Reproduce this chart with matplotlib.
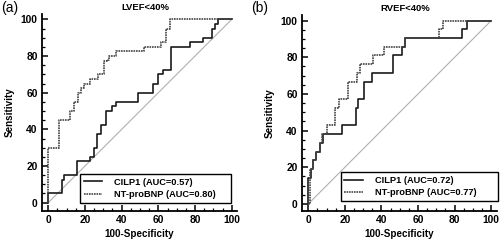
import matplotlib
matplotlib.use("Agg")
import matplotlib.pyplot as plt
from matplotlib.ticker import MultipleLocator

plt.rcParams['font.family'] = ['Liberation Sans', 'DejaVu Sans']

# ROC corner points (100-Specificity, Sensitivity)
lv_cilp_x = [0, 0, 7.5, 8.5, 15.8, 23, 25, 26.7, 28.6, 31.3, 35, 36.8, 48.7, 57, 59.7, 62.5, 67, 77, 84.3, 89, 90.8, 92.7, 100]
lv_cilp_y = [0, 5, 12.5, 15, 22.5, 25, 30, 37.5, 42.5, 50, 52.5, 55, 60, 65, 70, 72.5, 85, 87.5, 90, 95, 97.5, 100, 100]
lv_bnp_x = [0, 0, 5.7, 12, 14, 16, 17.6, 19.5, 22.5, 27, 30.5, 32, 33, 37, 52, 61.5, 64.3, 66.5, 100]
lv_bnp_y = [0, 30, 45, 50, 55, 60, 62.5, 65, 67.5, 70, 77.5, 78, 80, 82.5, 85, 87.5, 95, 100, 100]

rv_cilp_x = [0, 0, 1.3, 2.8, 4.2, 6.4, 8.2, 18.3, 25.9, 27.4, 30.5, 34.7, 46.5, 51.1, 52.9, 84, 86.7, 100]
rv_cilp_y = [0, 14.3, 19, 23.8, 28.6, 33.3, 38.1, 42.9, 52.4, 57.1, 66.7, 71.4, 81, 85.7, 90.5, 95.2, 100, 100]
rv_bnp_x = [0, 0.9, 2.5, 4.4, 6.2, 7.3, 10, 14.4, 16.7, 21.5, 26.8, 28.5, 35.6, 41.3, 53, 71.6, 73.7, 100]
rv_bnp_y = [0, 19, 23.8, 28.6, 33.3, 38.1, 42.9, 52.4, 57.1, 66.7, 71.4, 76.2, 81, 85.7, 90.5, 95.2, 100, 100]

panels = [
    dict(letter='(a)', lx=0.002, title='LVEF<40%', cx=lv_cilp_x, cy=lv_cilp_y, bx=lv_bnp_x, by=lv_bnp_y,
         auc=('0.57', '0.80'), rect=[0.0834, 0.122, 0.391, 0.820], ylo=-4.4,
         leg=(0.196, 0.041, 0.773, 0.156)),
    dict(letter='(b)', lx=0.503, title='RVEF<40%', cx=rv_cilp_x, cy=rv_cilp_y, bx=rv_bnp_x, by=rv_bnp_y,
         auc=('0.72', '0.77'), rect=[0.6034, 0.122, 0.39, 0.815], ylo=-3.7,
         leg=(0.2, 0.05, 0.805, 0.138)),
]

fig = plt.figure(figsize=(5, 2.4), dpi=100)

for p in panels:
    ax = fig.add_axes(p['rect'])
    ax.plot([0, 100], [0, 100], color='#b0b0b0', lw=0.8)
    ax.step(p['cx'], p['cy'], where='post', color='#1a1a1a', lw=1.2,
            label='CILP1 (AUC=%s)' % p['auc'][0])
    ax.step(p['bx'], p['by'], where='post', color='#444444', lw=1.2,
            linestyle=(0, (1, 0.5)), label='NT-proBNP (AUC=%s)' % p['auc'][1])
    ax.set_xlim(-3.6, 103)
    ax.set_ylim(p['ylo'], 103)
    for s in ['top', 'right']:
        ax.spines[s].set_visible(False)
    for s in ['left', 'bottom']:
        ax.spines[s].set_linewidth(1.3)
    ax.set_xticks([0, 20, 40, 60, 80, 100])
    ax.set_yticks([0, 20, 40, 60, 80, 100])
    ax.xaxis.set_minor_locator(MultipleLocator(5))
    ax.yaxis.set_minor_locator(MultipleLocator(5))
    ax.tick_params(which='major', direction='in', length=4, width=1.1, labelsize=7.4, pad=3)
    ax.tick_params(which='minor', direction='in', length=2.2, width=0.9)
    for lab in ax.get_xticklabels() + ax.get_yticklabels():
        lab.set_fontweight('bold')
    ax.set_xlabel('100-Specificity', fontsize=7.1, fontweight='bold', labelpad=3)
    ax.set_ylabel('Sensitivity', fontsize=7.1, fontweight='bold', labelpad=4)
    ax.set_title(p['title'], fontsize=6.8, fontweight='bold', pad=3, x=0.53)
    fig.text(p['lx'], 0.965, p['letter'], fontsize=10, va='center', ha='left')
    leg = ax.legend(loc='lower left', bbox_to_anchor=p['leg'], mode='expand', borderaxespad=0,
                    fancybox=False, edgecolor='black', framealpha=1, handlelength=2.0,
                    prop={'size': 6.7, 'weight': 'bold'}, borderpad=0.4, labelspacing=0.35,
                    handletextpad=1.3)
    leg.get_frame().set_linewidth(1.0)

fig.savefig('out.png', dpi=100)
